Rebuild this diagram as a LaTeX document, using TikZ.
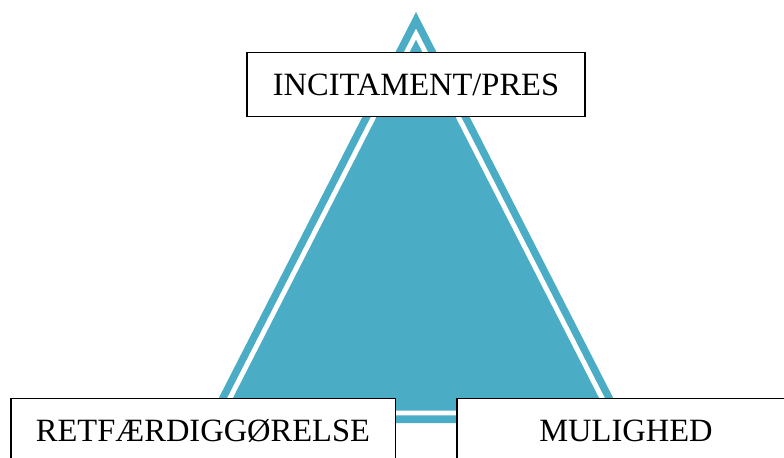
\documentclass[tikz,border=0pt]{standalone}
\usepackage{fontspec}
\setmainfont{Liberation Serif}
\definecolor{triblue}{HTML}{4BACC6}

\begin{document}
\begin{tikzpicture}[x=0.02cm,y=-0.02cm,
  labelbox/.style={draw=black,line width=1.1pt,fill=white,inner sep=0pt,
    minimum height=1.28cm,font=\fontsize{18.5}{22}\selectfont}]
  \useasboundingbox (0,0) rectangle (784,457);
  \clip (0,0) rectangle (784,457);
  % outer triangle with a white rim inside
  \fill[triblue] (416,12) -- (206,423) -- (626,423) -- cycle;
  \draw[white,line width=2.8pt,fill=triblue] (416,34) -- (222.3,413) -- (609.7,413) -- cycle;
  % the three corners
  \node[labelbox,minimum width=6.76cm] (incitament) at (416,84.5) {INCITAMENT/PRES};
  \node[labelbox,minimum width=7.7cm] (retfaerd) at (203,430.5) {RETFÆRDIGGØRELSE};
  \node[labelbox,minimum width=6.76cm] (mulighed) at (626,430.5) {MULIGHED};
\end{tikzpicture}
\end{document}
